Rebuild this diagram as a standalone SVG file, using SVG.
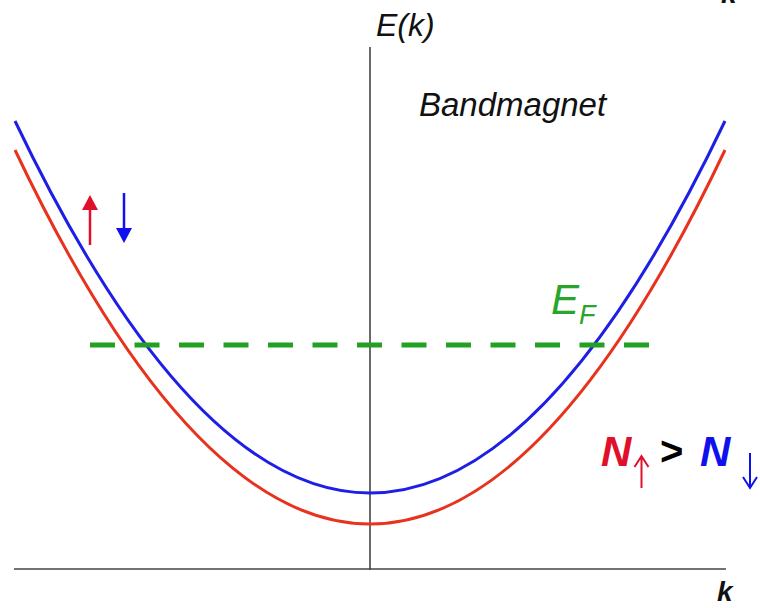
<svg xmlns="http://www.w3.org/2000/svg" width="760" height="608" viewBox="0 0 760 608">
<style>
.ax{stroke:#444;stroke-width:1.6;fill:none}
.t{font-family:"Liberation Sans",Arial,sans-serif;font-style:italic}
.band{fill:none;stroke-width:3}
</style>
<rect width="760" height="608" fill="#fff"/>
<g id="axes">
<line class="ax" x1="370" y1="47" x2="370" y2="570"/>
<line class="ax" x1="14" y1="569" x2="726" y2="569"/>
</g>
<g id="bands">
<path class="band" stroke="#e8321e" d="M15,150 Q370,898 725,150"/>
<path class="band" stroke="#1e1ee6" d="M15,121 Q370,865 725,121"/>
</g>
<g id="fermi">
<line x1="90" y1="345" x2="652" y2="345" stroke="#22a022" stroke-width="5" stroke-dasharray="25 19.5"/>
<text class="t" x="551" y="314" font-size="42" fill="#2aa52a">E<tspan font-size="27" dy="10">F</tspan></text>
</g>
<g id="spins">
<line x1="90" y1="245" x2="90" y2="208" stroke="#e0102a" stroke-width="2.5"/>
<polygon points="82,210 98,210 90,195" fill="#e0102a"/>
<line x1="124" y1="193" x2="124" y2="230" stroke="#1010ee" stroke-width="2.5"/>
<polygon points="116,228 132,228 124,243" fill="#1010ee"/>
</g>
<g id="labels">
<text class="t" x="376" y="36" font-size="32" fill="#111">E(k)</text>
<text class="t" x="419" y="116" font-size="33" fill="#111">Bandmagnet</text>
<text class="t" x="717" y="601" font-size="28" font-weight="bold" fill="#111">k</text>
<text class="t" x="721" y="3" font-size="28" font-weight="bold" fill="#111">k</text>
<text class="t" x="601" y="466" font-size="42" font-weight="bold" fill="#e0102a">N</text>
<text x="660" y="465" font-family="Liberation Sans,Arial,sans-serif" font-size="40" font-weight="bold" fill="#000">&gt;</text>
<text class="t" x="700" y="466" font-size="42" font-weight="bold" fill="#1010ee">N</text>
</g>
<g id="subarrows" fill="none" stroke-width="2">
<path d="M641.5,488 V456 M634.5,467 L641.5,456 L648.5,467" stroke="#e0102a"/>
<path d="M750,453 V488 M743,477 L750,488 L757,477" stroke="#1010ee"/>
</g>
</svg>
